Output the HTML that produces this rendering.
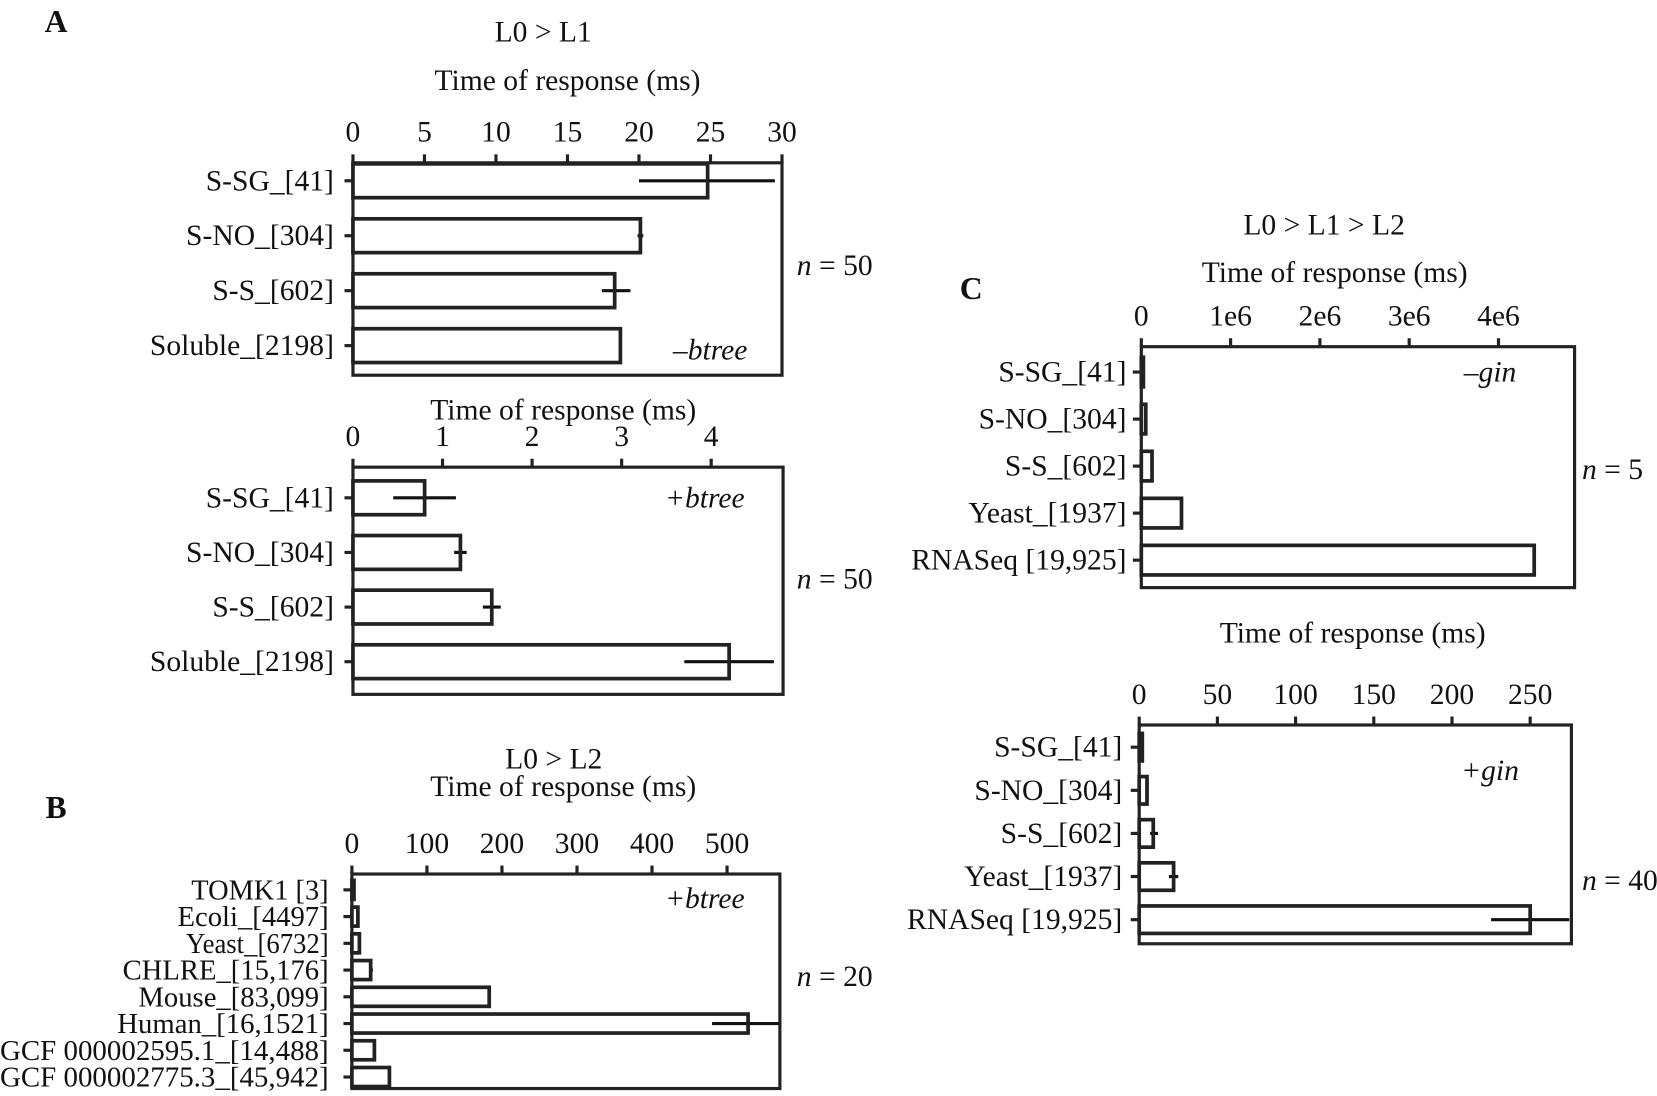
<!DOCTYPE html>
<html><head><meta charset="utf-8"><style>
html,body{margin:0;padding:0;background:#fff;}
svg{display:block;font-family:"Liberation Serif",serif;}
</style></head><body>
<svg id="fig" width="1657" height="1096" viewBox="0 0 1568 1037" xmlns="http://www.w3.org/2000/svg">
<g id="root"></g>
</svg>
<script>
// Panel A top
const aTopCats=["S-SG_[41]","S-NO_[304]","S-S_[602]","Soluble_[2198]"];
const aTopVals=[24.8,20.1,18.3,18.7];
const aTopLo=[20.0,19.9,17.4,18.6];
const aTopHi=[29.5,20.3,19.4,18.8];
const aTopTicks=[0,5,10,15,20,25,30];
// Panel A bottom
const aBotCats=["S-SG_[41]","S-NO_[304]","S-S_[602]","Soluble_[2198]"];
const aBotVals=[0.8,1.2,1.55,4.2];
const aBotLo=[0.45,1.13,1.45,3.7];
const aBotHi=[1.15,1.27,1.65,4.7];
const aBotTicks=[0,1,2,3,4];
// Panel B
const bCats=["TOMK1 [3]","Ecoli_[4497]","Yeast_[6732]","CHLRE_[15,176]","Mouse_[83,099]","Human_[16,1521]","GCF 000002595.1_[14,488]","GCF 000002775.3_[45,942]"];
const bVals=[1,8,10,25,183,528,30,50];
const bLo=[1,8,10,25,183,480,30,50];
const bHi=[1,8,10,28,183,570,32,50];
const bTicks=[0,100,200,300,400,500];
// Panel C top
const cTopCats=["S-SG_[41]","S-NO_[304]","S-S_[602]","Yeast_[1937]","RNASeq [19,925]"];
const cTopVals=[10000,50000,120000,450000,4400000];
const cTopTicks=[0,1000000,2000000,3000000,4000000];
const cTopTickLabels=["0","1e6","2e6","3e6","4e6"];
// Panel C bottom
const cBotCats=["S-SG_[41]","S-NO_[304]","S-S_[602]","Yeast_[1937]","RNASeq [19,925]"];
const cBotVals=[2,5,9,22,250];
const cBotLo=[2,5,7,19,225];
const cBotHi=[2,5,12,25,275];
const cBotTicks=[0,50,100,150,200,250];

const NS="http://www.w3.org/2000/svg";
const FS=28;
const root=document.getElementById('root');
function mk(tag,attrs,parent){const e=document.createElementNS(NS,tag);for(const k in attrs)e.setAttribute(k,attrs[k]);(parent||root).appendChild(e);return e;}
function txt(x,y,s,size,anchor,parent,italic){const t=mk('text',{x:x,y:y,'font-size':size,'text-anchor':anchor||'middle',fill:'#111'},parent);if(italic)t.setAttribute('font-style','italic');t.textContent=s;return t;}

function panel(o){
  const g=mk('g',{});
  
  
  const sx=v=>o.x0+(v-o.t0)*o.ppu;
  const box=mk('rect',{x:o.x0,y:o.top,width:o.right-o.x0,height:o.bottom-o.top,fill:'none',stroke:'#222','stroke-width':3},g);
  
  
  o.ticks.forEach((t,i)=>{
    const x=sx(t);
    mk('line',{x1:x,y1:o.top,x2:x,y2:o.top-8,stroke:'#222','stroke-width':3},g);
    const lab=txt(x,o.top-20,o.tickLabels?o.tickLabels[i]:String(t),FS,'middle',g);
    
    
  });
  o.cats.forEach((c,i)=>{
    const cy=o.rowY[0]+i*o.rowStep;
    mk('line',{x1:o.x0-8,y1:cy,x2:o.x0,y2:cy,stroke:'#222','stroke-width':3},g);
    const l=txt(o.x0-(o.lgap||18),cy+9,c,o.lfs||FS,'end',g);
    if(o.cond){l.setAttribute('textLength',o.cond[i]);l.setAttribute('lengthAdjust','spacingAndGlyphs');}
    
    
    const w=Math.max(sx(o.vals[i])-o.x0,2);
    const r=mk('rect',{x:o.x0,y:cy-o.bh/2,width:w,height:o.bh,fill:'#fff',stroke:'#222','stroke-width':3.5},g);
    
    
    if(o.lo){
      const e=mk('line',{x1:sx(o.lo[i]),y1:cy,x2:sx(o.hi[i]),y2:cy,stroke:'#111','stroke-width':3},g);
      
      
      mk('line',{x1:sx(o.vals[i]),y1:cy-o.bh/2,x2:sx(o.vals[i]),y2:cy+o.bh/2,stroke:'#222','stroke-width':3},g);
    }
  });
  if(o.title){const t=txt(o.titleX,o.titleY,o.title,FS,'middle',g);}
  if(o.tag){const t=txt(o.tagX,o.tagY,o.tag,FS,'middle',g,true);}
  if(o.n){const t=mk('text',{x:o.nX,y:o.nY,'font-size':FS,fill:'#111'},g);t.innerHTML='<tspan font-style="italic">n</tspan> = '+o.n;}
}

panel({name:'panel-a-top',x0:334,t0:0,ppu:(740-334)/30,top:154,bottom:355,right:740,ticks:aTopTicks,
 cats:aTopCats,vals:aTopVals,lo:aTopLo,hi:aTopHi,rowY:[171],rowStep:52,bh:32,
 title:'Time of response (ms)',titleX:537,titleY:85,tag:'\u2013btree',tagX:672,tagY:340,n:50,nX:754,nY:260});
panel({name:'panel-a-bottom',x0:334,t0:0,ppu:(673-334)/4,top:442,bottom:657,right:741,ticks:aBotTicks,
 cats:aBotCats,vals:aBotVals,lo:aBotLo,hi:aBotHi,rowY:[471],rowStep:51.7,bh:32,
 title:'Time of response (ms)',titleX:533,titleY:397,tag:'+btree',tagX:667,tagY:480,n:50,nX:754,nY:557});
panel({name:'panel-b',x0:333,t0:0,ppu:(688-333)/500,top:827,bottom:1030,right:738,ticks:bTicks,
 cats:bCats,vals:bVals,lo:bLo,hi:bHi,rowY:[842],rowStep:25.3,bh:18,lfs:27,lgap:22,
 cond:[130,143,135,195,180,200,311,311],
 title:'Time of response (ms)',titleX:533,titleY:753,tag:'+btree',tagX:667,tagY:859,n:20,nX:754,nY:933});
panel({name:'panel-c-top',x0:1080,t0:0,ppu:(1418-1080)/4000000,top:328,bottom:556,right:1490,ticks:cTopTicks,tickLabels:cTopTickLabels,
 cats:cTopCats,vals:cTopVals,rowY:[352],rowStep:44.5,bh:28,lgap:14,
 title:'Time of response (ms)',titleX:1263,titleY:267,tag:'\u2013gin',tagX:1410,tagY:361,n:5,nX:1497,nY:453});
panel({name:'panel-c-bottom',x0:1078,t0:0,ppu:(1448-1078)/250,top:686,bottom:893,right:1487,ticks:cBotTicks,
 cats:cBotCats,vals:cBotVals,lo:cBotLo,hi:cBotHi,rowY:[707],rowStep:40.8,bh:26,lgap:16,
 title:'Time of response (ms)',titleX:1280,titleY:608,tag:'+gin',tagX:1410,tagY:738,n:40,nX:1497,nY:842});

const heads=[['A',53,30,'panel-a-letter'],['B',53,774,'panel-b-letter'],['C',919,283,'panel-c-letter']];
heads.forEach(h=>{const t=txt(h[1],h[2],h[0],30,'middle');t.setAttribute('font-weight','bold');});
let t1=txt(514,39,'L0 > L1',FS);
let t2=txt(524,727,'L0 > L2',FS);
let t3=txt(1253,222,'L0 > L1 > L2',FS);
</script>
</body></html>
